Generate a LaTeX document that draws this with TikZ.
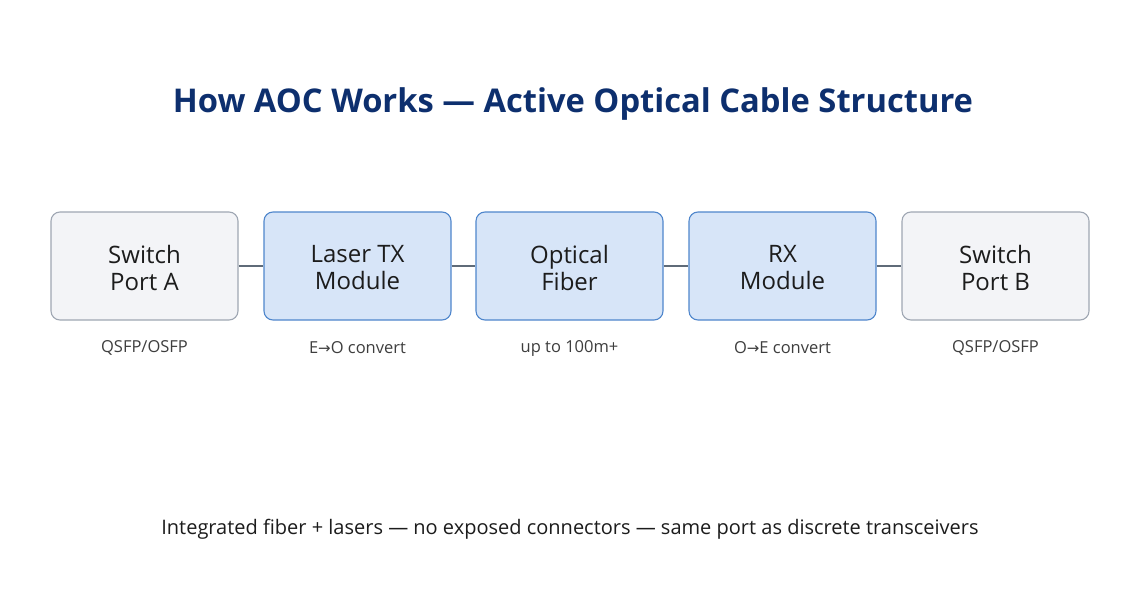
\documentclass[tikz,border=0pt]{standalone}
\usepackage{fontspec}
\setmainfont{Open Sans}
\newfontfamily\symfont{DejaVu Sans}
\newcommand{\rarr}{{\symfont\fontsize{15}{18}\selectfont →}}
\definecolor{titleblue}{HTML}{0D2F6E}
\definecolor{txt}{HTML}{1C1C1C}
\definecolor{grayfill}{HTML}{F3F4F7}
\definecolor{grayline}{HTML}{9FA7B3}
\definecolor{bluefill}{HTML}{D7E5F8}
\definecolor{blueline}{HTML}{4F86CC}
\definecolor{conn}{HTML}{5F6B78}
\tikzset{
  box/.style={draw, rounded corners=9pt, line width=1.1pt, minimum width=187pt, minimum height=108pt, inner sep=0pt, align=center, text=txt, font=\fontsize{24}{27}\selectfont},
  graybox/.style={box, fill=grayfill, draw=grayline},
  bluebox/.style={box, fill=bluefill, draw=blueline},
  sub/.style={text=txt!85, font=\fontsize{16.5}{19}\selectfont},
  link/.style={draw=conn, line width=1.3pt}
}
\begin{document}
\begin{tikzpicture}[x=1pt,y=-1pt]
\useasboundingbox (0,0) rectangle (1139,602);
\fill[white] (0,0) rectangle (1139,602);
\node[text=titleblue, font=\fontsize{32.7}{38}\selectfont\bfseries] (title) at (573,104) {How AOC Works — Active Optical Cable Structure};
\node[graybox] (a) at (144.5,266) {};
\node[bluebox] (b) at (357.5,266) {};
\node[bluebox] (c) at (569.5,266) {};
\node[bluebox] (d) at (782.5,266) {};
\node[graybox] (e) at (995.5,266) {};
\node[box, draw=none, fill=none] (ta) at (144.5,268) {Switch\\Port A};
\node[box, draw=none, fill=none] (tb) at (357.5,268) {Laser TX\\Module};
\node[box, draw=none, fill=none] (tc) at (569.5,268) {Optical\\Fiber};
\node[box, draw=none, fill=none] (td) at (782.5,268) {RX\\Module};
\node[box, draw=none, fill=none] (te) at (995.5,268) {Switch\\Port B};
\draw[link] (a) -- (b);
\draw[link] (b) -- (c);
\draw[link] (c) -- (d);
\draw[link] (d) -- (e);
\node[sub] (la) at (144.5,348) {QSFP/OSFP};
\node[sub] (lb) at (357.5,348) {E\rarr O convert};
\node[sub] (lc) at (569.5,348) {up to 100m+};
\node[sub] (ld) at (782.5,348) {O\rarr E convert};
\node[sub] (le) at (995.5,348) {QSFP/OSFP};
\node[text=txt, font=\fontsize{20}{24}\selectfont] (foot) at (570,529.5) {Integrated fiber + lasers — no exposed connectors — same port as discrete transceivers};
\end{tikzpicture}
\end{document}
